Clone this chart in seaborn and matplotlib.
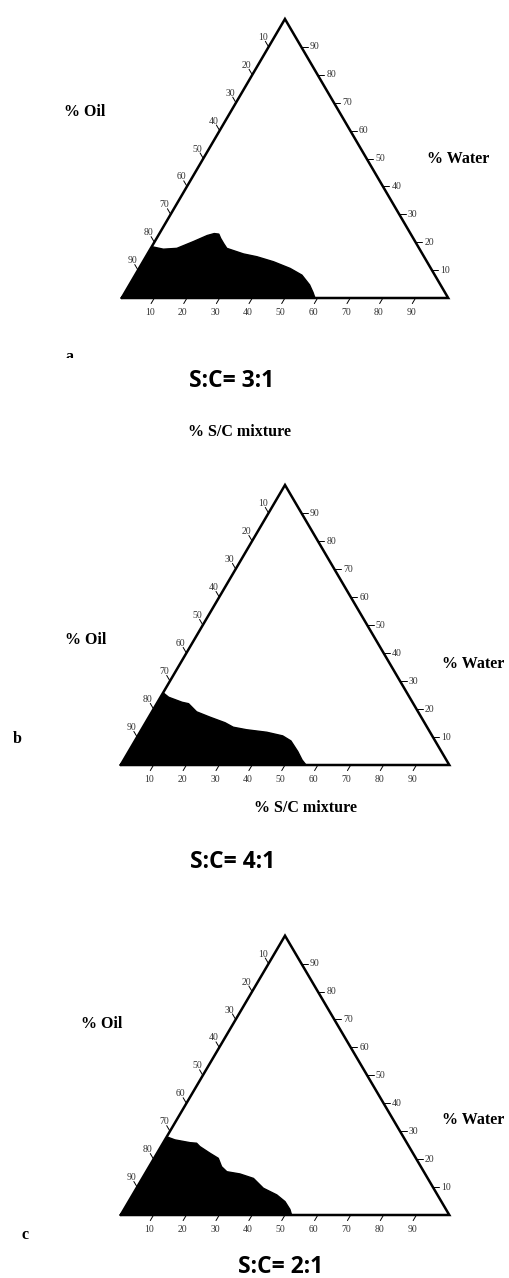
import numpy as np
import matplotlib
matplotlib.use("Agg")
import matplotlib.pyplot as plt
import seaborn as sns
from matplotlib.transforms import Bbox, TransformedBbox

# ---------------- data ----------------
ticks = [10, 20, 30, 40, 50, 60, 70, 80, 90]
tick_labels = ["10", "20", "30", "40", "50", "60", "70", "80", "90"]

panel_titles = ["S:C= 3:1", "S:C= 4:1", "S:C= 2:1"]
panel_letters = ["a", "b", "c"]
oil_label = "% Oil"
water_label = "% Water"
sc_label = "% S/C mixture"

# boundary of the black region: % S/C mixture and % Water along the curve
a_sc = [0, 4.0, 8.0, 11.8, 15.0, 16.8, 18.3, 19.6, 21.5, 23.3, 29.4, 34.0, 40.0, 46.3, 51.1, 55.2, 57.6, 59.2]
a_water = [18.4, 17.5, 17.8, 20.2, 22.4, 23.1, 22.9, 21.4, 19.5, 17.8, 15.8, 14.8, 13.0, 10.6, 8.2, 4.7, 2.0, 0]

b_sc = [0, 2.5, 7.5, 9.7, 13.6, 18.6, 24.2, 27.5, 32.0, 38.6, 44.1, 47.5, 51.5, 54.3, 56.4]
b_water = [25.8, 24.2, 22.4, 21.9, 19.0, 17.1, 15.1, 13.5, 12.6, 11.7, 10.4, 8.6, 4.8, 1.8, 0]

c_sc = [0, 3.05, 8.15, 10.25, 11.85, 16.15, 19.55, 22.05, 24.55, 28.95, 33.85, 38.6, 43.9, 47.6, 50.5, 52.0]
c_water = [28.0, 26.9, 25.9, 25.7, 24.5, 22.1, 20.3, 17.3, 15.5, 14.7, 13.1, 9.6, 7.2, 4.8, 2.0, 0]

# ---------------- layout ----------------
W, H = 509, 1278
sns.set_theme(style="white")
plt.rcParams['font.family'] = ['Liberation Serif', 'DejaVu Sans']

fig = plt.figure(figsize=(W / 100, H / 100), dpi=100)
fig.patch.set_facecolor("white")

# (left px, width px, base y px, height px)
panel_boxes = [(121.7, 326.5, 298, 279), (120.7, 328.6, 765, 280), (120.7, 328.6, 1215, 279.3)]
panel_data = [(a_sc, a_water), (b_sc, b_water), (c_sc, c_water)]

R3 = np.sqrt(3) / 2


def tern_xy(sc, w):
    sc = np.asarray(sc, float)
    w = np.asarray(w, float)
    return sc + w / 2, w * R3


def draw_panel(ax, sc, water):
    ax.set_xlim(0, 100)
    ax.set_ylim(0, 100 * R3)
    ax.axis("off")
    # filled region
    px, py = tern_xy([0] + list(sc), [0] + list(water))
    ax.fill(px, py, color="black", lw=0, clip_on=False, zorder=2)
    bx, by = tern_xy(sc, water)
    sns.lineplot(x=bx, y=by, sort=False, estimator=None, color="black", lw=1.0, ax=ax, zorder=3)
    # triangle outline
    vx, vy = tern_xy([0, 100, 0, 0], [0, 0, 100, 0])
    ax.plot(vx, vy, color="black", lw=1.8, clip_on=False, solid_joinstyle="miter", zorder=4)
    L = 2.0
    tk = dict(color="black", lw=0.7, clip_on=False, zorder=4)
    lab = dict(textcoords="offset points", ha="center", va="center", fontsize=7,
               color="#333333", family=["Liberation Serif"])
    for t, s in zip(ticks, tick_labels):
        # bottom axis (% S/C)
        x0, y0 = tern_xy(t, 0)
        ax.plot([x0, x0 - 0.5 * L], [y0, y0 - R3 * L], **tk)
        ax.annotate(s, (x0, y0), xytext=(-3.1, -10.6), **lab)
        # left axis (% Oil)
        x0, y0 = tern_xy(0, 100 - t)
        ax.plot([x0, x0 - 0.5 * L], [y0, y0 + R3 * L], **tk)
        ax.annotate(s, (x0, y0), xytext=(-4.3, 6.8), **lab)
        # right axis (% Water)
        x0, y0 = tern_xy(100 - t, t)
        ax.plot([x0, x0 + L], [y0, y0], **tk)
        ax.annotate(s, (x0, y0), xytext=(9.7, 0), **lab)


for (left, width, base, height), (sc, wt) in zip(panel_boxes, panel_data):
    ax = fig.add_axes([left / W, 1 - base / H, width / W, height / H])
    draw_panel(ax, sc, wt)


def ftext(x, y, s, size, fam, **kw):
    return fig.text(x / W, 1 - y / H, s, ha=kw.pop("ha", "center"), va=kw.pop("va", "center"),
                    fontsize=size, fontweight="bold", family=fam, color="black", **kw)


serif = ["Liberation Serif", "DejaVu Serif"]
sans = ["Open Sans", "DejaVu Sans"]

# panel a
ftext(85, 112, oil_label, 11.5, serif)
ftext(458, 159, water_label, 11.5, serif)
ftext(232, 381, panel_titles[0], 16.5, sans)
ftext(240, 432, sc_label, 11.5, serif)
ta = ftext(69, 349, panel_letters[0], 11.5, serif, va="top")
ta.set_clip_box(TransformedBbox(Bbox([[0, 1 - 358 / H], [1, 1]]), fig.transFigure))
ta.set_clip_on(True)

# panel b
ftext(86, 640, oil_label, 11.5, serif)
ftext(473, 664, water_label, 11.5, serif)
ftext(305, 808, sc_label, 11.5, serif)
ftext(233, 862, panel_titles[1], 16.5, sans)
ftext(17, 739, panel_letters[1], 11.5, serif)

# panel c
ftext(102, 1024, oil_label, 11.5, serif)
ftext(473, 1120, water_label, 11.5, serif)
ftext(281, 1267, panel_titles[2], 16.5, sans)
ftext(25, 1235, panel_letters[2], 11.5, serif)

fig.savefig("out.png", dpi=100, facecolor="white")
